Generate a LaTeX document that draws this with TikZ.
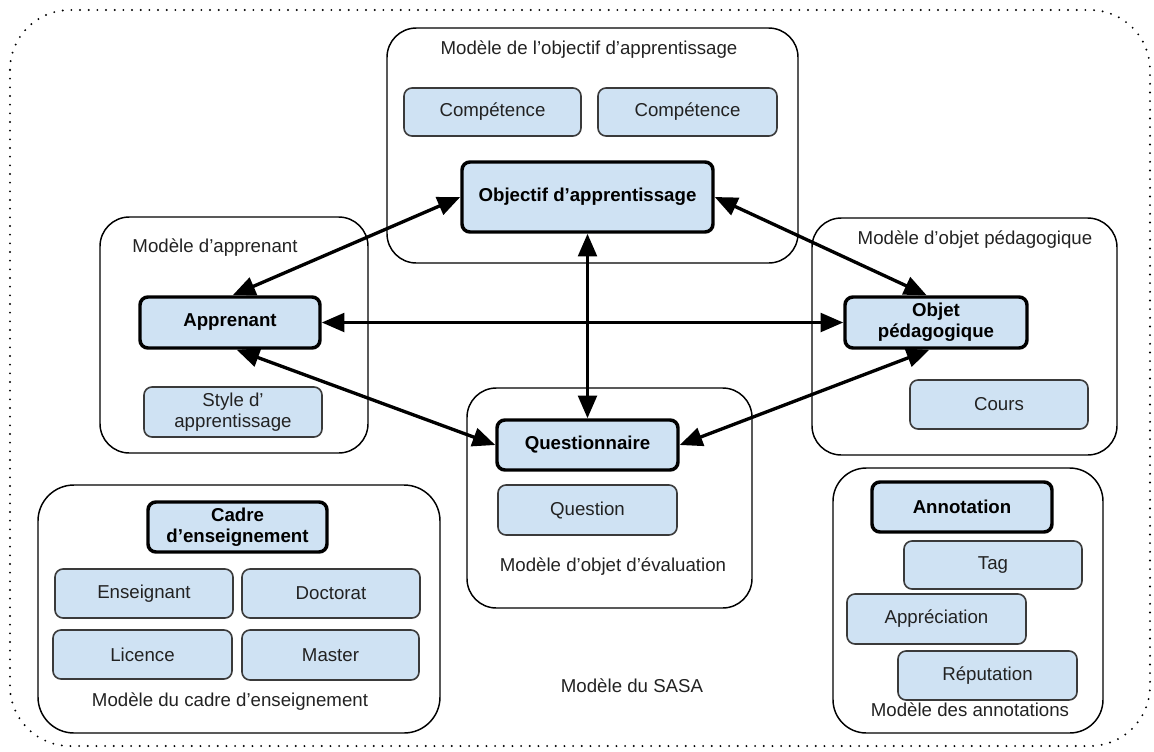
\documentclass[tikz,border=0pt]{standalone}
\usepackage{fontspec}
\setmainfont{Liberation Sans}
\usetikzlibrary{arrows.meta}
\definecolor{boxfill}{HTML}{CFE2F3}
\definecolor{boxline}{HTML}{3A3A3A}
\definecolor{txt}{HTML}{222222}
\tikzset{
  bw/.style={minimum width=#1*0.75pt},
  bh/.style={minimum height=#1*0.75pt},
  container/.style={draw=black, line width=1.1pt, rounded corners=22pt, inner sep=0pt, fill=none},
  itembox/.style={draw=boxline, line width=1.2pt, fill=boxfill, rounded corners=6pt, inner sep=0pt,
    align=center, text=txt, font=\fontsize{14}{15.8}\selectfont},
  keybox/.style={itembox, draw=black, line width=2.6pt, text=black, font=\fontsize{14}{15.8}\selectfont\bfseries},
  modlabel/.style={text=txt, font=\fontsize{14}{15.8}\selectfont, inner sep=0pt},
  biarrow/.style={line width=2.5pt, {Triangle[length=17pt,width=14pt]}-{Triangle[length=17pt,width=14pt]}}
}
\begin{document}
\begin{tikzpicture}[x=0.75pt, y=-0.75pt]
\useasboundingbox (0,0) rectangle (1154,751);
% outer dotted frame
\draw[line width=1.6pt, dash pattern=on 0pt off 6.5pt, line cap=round, rounded corners=45pt] (10,10) rectangle (1150,746);
% containers
\node[container, bw=411, bh=235] (mObj) at (592.5,145.5) {};
\node[container, bw=268, bh=236] (mApp) at (234,335) {};
\node[container, bw=305, bh=237] (mPed) at (964.5,336.5) {};
\node[container, bw=285, bh=220] (mEval) at (609.5,498) {};
\node[container, bw=402, bh=248, rounded corners=27pt] (mCadre) at (239,609) {};
\node[container, bw=270, bh=265, rounded corners=25pt] (mAnn) at (968,600.5) {};
% container labels
\node[modlabel] (lObj) at (589,50) {Modèle de l’objectif d’apprentissage};
\node[modlabel] (lApp) at (215,248) {Modèle d’apprenant};
\node[modlabel] (lPed) at (975,240) {Modèle d’objet pédagogique};
\node[modlabel] (lEval) at (613,567) {Modèle d’objet d’évaluation};
\node[modlabel] (lCadre) at (230,702) {Modèle du cadre d’enseignement};
\node[modlabel] (lAnn) at (970,710) {Modèle des annotations};
\node[modlabel] (lSasa) at (632,686) {Modèle du SASA};
% items
\node[itembox, bw=177, bh=48] (comp1) at (492.5,112) {Compétence};
\node[itembox, bw=179, bh=48] (comp2) at (687.5,112) {Compétence};
\node[keybox, bw=251, bh=70] (obj) at (587.5,197) {Objectif d’apprentissage};
\node[keybox, bw=180, bh=51] (app) at (230,322.5) {Apprenant};
\node[itembox, bw=178, bh=50] (style) at (233,412) {Style d’\\apprentissage};
\node[keybox, bw=182, bh=51] (ped) at (936,322.5) {Objet\\pédagogique};
\node[itembox, bw=178, bh=49] (cours) at (999,404.5) {Cours};
\node[keybox, bw=181, bh=50] (quest) at (587.5,445) {Questionnaire};
\node[itembox, bw=179, bh=50] (question) at (587.5,510) {Question};
\node[keybox, bw=179, bh=50] (cadre) at (237.5,527) {Cadre\\d’enseignement};
\node[itembox, bw=178, bh=49] (ens) at (144,593.5) {Enseignant};
\node[itembox, bw=178, bh=49] (doc) at (331,593.5) {Doctorat};
\node[itembox, bw=179, bh=49] (lic) at (142.5,654.5) {Licence};
\node[itembox, bw=177, bh=50] (mas) at (330.5,655) {Master};
\node[keybox, bw=180, bh=50] (ann) at (962,507) {Annotation};
\node[itembox, bw=178, bh=48] (tag) at (993,565) {Tag};
\node[itembox, bw=179, bh=50] (appr) at (936.5,619) {Appréciation};
\node[itembox, bw=179, bh=49] (rep) at (987.5,675.5) {Réputation};
% connectors
\draw[biarrow] (obj.west) -- ([xshift=2pt]app.north);
\draw[biarrow] (obj.east) -- ([xshift=-7pt]ped.north);
\draw[biarrow] (obj.south) -- (quest.north);
\draw[biarrow] (app.east) -- (ped.west);
\draw[biarrow] ([xshift=5pt]app.south) -- (quest.west);
\draw[biarrow] ([xshift=-5pt]ped.south) -- (quest.east);
\end{tikzpicture}
\end{document}
